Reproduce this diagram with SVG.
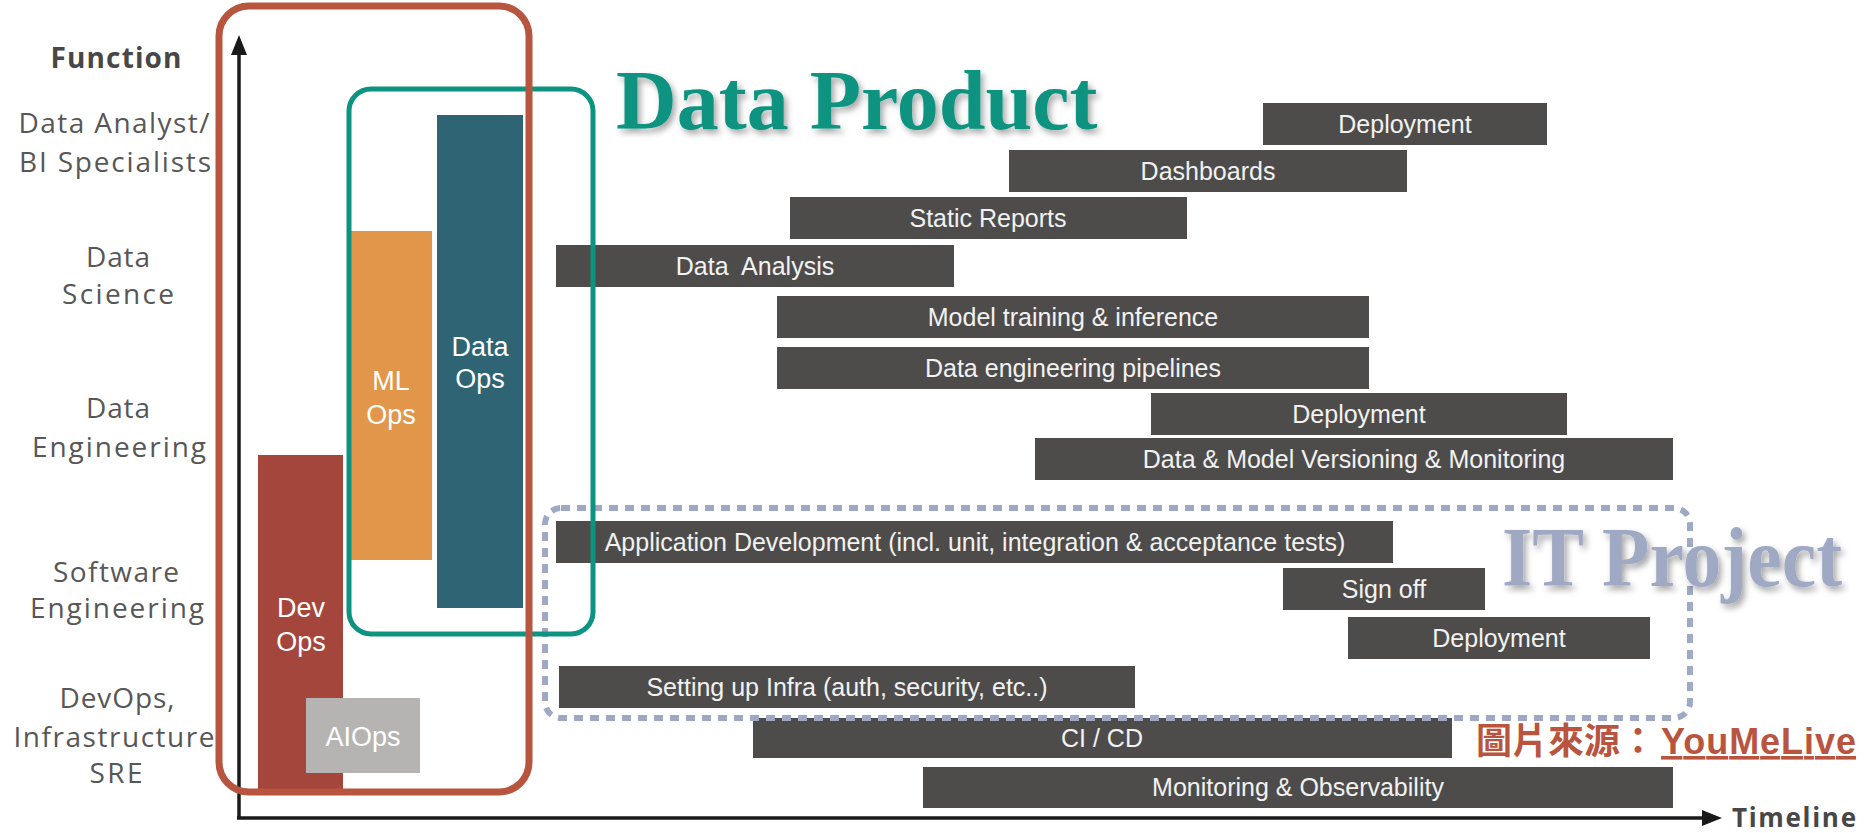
<svg xmlns="http://www.w3.org/2000/svg" width="1865" height="833" viewBox="0 0 1865 833">
<style>
.lbl{font-family:"Open Sans","DejaVu Sans",sans-serif;font-size:28px;fill:#575757;text-anchor:middle}
.fn{font-family:"Open Sans","DejaVu Sans",sans-serif;font-size:28px;font-weight:bold;fill:#474747;text-anchor:middle}
.bar{fill:#4e4c4b}
.bt{font-family:"Liberation Sans",Arial,sans-serif;font-size:25px;fill:#f2f2f2;text-anchor:middle}
.ot{font-family:"Liberation Sans",Arial,sans-serif;font-size:27px;fill:#ffffff;text-anchor:middle}
.big{font-family:"Liberation Serif","Times New Roman",serif;font-size:84px;font-weight:bold}
.axis{stroke:#1a1a1a;stroke-width:3.5;fill:none}
.src{font-family:"Liberation Sans","Noto Sans CJK TC",sans-serif;font-size:36px;font-weight:bold;fill:#b9553f}
</style>
<defs>
<marker id="arr" markerUnits="userSpaceOnUse" markerWidth="20" markerHeight="16" refX="0" refY="8" orient="auto">
<path d="M0,0 L20,8 L0,16 z" fill="#1a1a1a"/>
</marker>
<filter id="sh" x="-3%" y="-15%" width="106%" height="140%">
<feDropShadow dx="3" dy="4" stdDeviation="3" flood-color="#000" flood-opacity="0.35"/>
</filter>
</defs>
<rect width="1865" height="833" fill="#ffffff"/>

<g id="function-labels">
<text class="fn" x="116" y="68" textLength="131">Function</text>
<text class="lbl" x="114" y="133" textLength="191">Data Analyst/</text>
<text class="lbl" x="115" y="172" textLength="192">BI Specialists</text>
<text class="lbl" x="118" y="267" textLength="64">Data</text>
<text class="lbl" x="118" y="304" textLength="112">Science</text>
<text class="lbl" x="118" y="418" textLength="64">Data</text>
<text class="lbl" x="119" y="457" textLength="174">Engineering</text>
<text class="lbl" x="116" y="582" textLength="126">Software</text>
<text class="lbl" x="117" y="618" textLength="174">Engineering</text>
<text class="lbl" x="117" y="708" textLength="115">DevOps,</text>
<text class="lbl" x="114" y="747" textLength="201">Infrastructure</text>
<text class="lbl" x="116" y="783" textLength="53">SRE</text>
</g>

<g id="connectors">
<line class="axis" x1="239" y1="818" x2="239" y2="55" marker-end="url(#arr)"/>
<line class="axis" x1="237" y1="818" x2="1702" y2="818" marker-end="url(#arr)"/>
<text x="1732" y="827" font-family="'Open Sans','DejaVu Sans',sans-serif" font-size="26" font-weight="bold" fill="#474747" textLength="124">Timeline</text>
</g>

<g id="devops">
<rect x="258" y="455" width="85" height="336" fill="#a5463c"/>
<text class="ot" x="301" y="617">Dev</text>
<text class="ot" x="301" y="651">Ops</text>
</g>
<g id="aiops">
<rect x="306" y="698" width="114" height="75" fill="#b5b4b2"/>
<text class="ot" x="363" y="746" fill="#f0f0f0">AIOps</text>
</g>
<g id="mlops">
<rect x="351" y="231" width="81" height="329" fill="#e2964a"/>
<text class="ot" x="391" y="390">ML</text>
<text class="ot" x="391" y="424">Ops</text>
</g>
<g id="dataops">
<rect x="437" y="115" width="86" height="493" fill="#2e6474"/>
<text class="ot" x="480" y="356">Data</text>
<text class="ot" x="480" y="388">Ops</text>
</g>

<g id="bar-deploy-da"><rect class="bar" x="1263" y="103" width="284" height="42"/><text class="bt" x="1405" y="133">Deployment</text></g>
<g id="bar-dashboards"><rect class="bar" x="1009" y="150" width="398" height="42"/><text class="bt" x="1208" y="180">Dashboards</text></g>
<g id="bar-static"><rect class="bar" x="790" y="197" width="397" height="42"/><text class="bt" x="988" y="227">Static Reports</text></g>
<g id="bar-analysis"><rect class="bar" x="556" y="245" width="398" height="42"/><text class="bt" x="755" y="275" xml:space="preserve">Data  Analysis</text></g>
<g id="bar-model"><rect class="bar" x="777" y="296" width="592" height="42"/><text class="bt" x="1073" y="326">Model training &amp; inference</text></g>
<g id="bar-pipelines"><rect class="bar" x="777" y="347" width="592" height="42"/><text class="bt" x="1073" y="377">Data engineering pipelines</text></g>
<g id="bar-deploy-de"><rect class="bar" x="1151" y="393" width="416" height="42"/><text class="bt" x="1359" y="423">Deployment</text></g>
<g id="bar-versioning"><rect class="bar" x="1035" y="438" width="638" height="42"/><text class="bt" x="1354" y="468">Data &amp; Model Versioning &amp; Monitoring</text></g>
<g id="bar-appdev"><rect class="bar" x="556" y="521" width="837" height="42"/><text class="bt" x="975" y="551">Application Development (incl. unit, integration &amp; acceptance tests)</text></g>
<g id="bar-signoff"><rect class="bar" x="1283" y="568" width="202" height="42"/><text class="bt" x="1384" y="598">Sign off</text></g>
<g id="bar-deploy-se"><rect class="bar" x="1348" y="617" width="302" height="42"/><text class="bt" x="1499" y="647">Deployment</text></g>
<g id="bar-infra"><rect class="bar" x="559" y="666" width="576" height="42"/><text class="bt" x="847" y="696">Setting up Infra (auth, security, etc..)</text></g>
<g id="bar-cicd"><rect class="bar" x="753" y="718" width="699" height="40"/><text class="bt" x="1102" y="747">CI / CD</text></g>
<g id="bar-monitoring"><rect class="bar" x="923" y="767" width="750" height="41"/><text class="bt" x="1298" y="796">Monitoring &amp; Observability</text></g>

<g id="it-project">
<rect x="545" y="508" width="1145" height="210" rx="16" fill="none" stroke="#a0a9c3" stroke-width="6" stroke-dasharray="9 7"/>
<text class="big" x="1502" y="586" font-size="80" fill="#a0a9c3" filter="url(#sh)" textLength="340" lengthAdjust="spacingAndGlyphs">IT Project</text>
</g>

<g id="data-product">
<rect x="349" y="89" width="244" height="545" rx="22" fill="none" stroke="#0d9381" stroke-width="5"/>
<text class="big" x="616" y="129" fill="#0a9380" filter="url(#sh)">Data Product</text>
</g>

<g id="ops-frame">
<rect x="219" y="6" width="310" height="786" rx="30" fill="none" stroke="#b8553f" stroke-width="7"/>
</g>

<g id="source">
<text class="src" x="1476" y="754">圖片來源：</text>
<text class="src" x="1661" y="754" textLength="195" text-decoration="underline">YouMeLive</text>
</g>
</svg>
